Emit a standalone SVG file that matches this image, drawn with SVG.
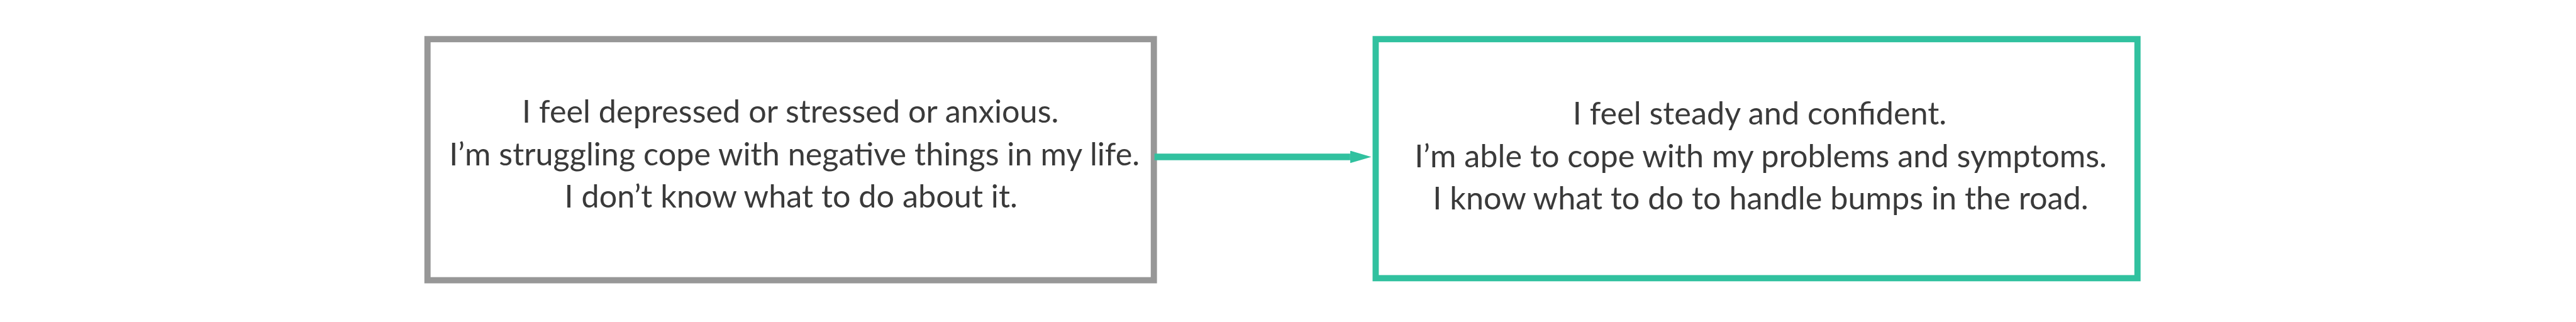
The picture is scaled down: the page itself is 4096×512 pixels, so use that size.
<svg xmlns="http://www.w3.org/2000/svg" width="4096" height="512" viewBox="0 0 4096 512">
<defs>
<style>
.box{fill:#fff;stroke-width:10}
.gray{stroke:#979797}
.teal{stroke:#31c19f}
.t{font-family:Lato,"Open Sans","Liberation Sans",sans-serif;font-size:51px;fill:#3a3a3a;text-anchor:middle}
</style>
<marker id="ah" markerUnits="userSpaceOnUse" markerWidth="36" markerHeight="22" refX="0" refY="10" orient="auto">
<polygon points="0,0 34,10 0,20" fill="#31c19f"/>
</marker>
</defs>
<rect width="4096" height="512" fill="#fff"/>
<g transform="scale(0.988)">
<g id="node-before">
<rect class="box gray" x="688" y="63" width="1169" height="388"/>
<text class="t" x="1272" y="197">I feel depressed or stressed or anxious.</text>
<text class="t" x="1278.5" y="266.5">I’m struggling cope with negative things in my life.</text>
<text class="t" x="1273" y="334.5">I don’t know what to do about it.</text>
</g>
<g id="node-after">
<rect class="box teal" x="2214" y="63" width="1226" height="384.7"/>
<text class="t" x="2832" y="200.5">I feel steady and confident.</text>
<text class="t" x="2833.5" y="269.5">I’m able to cope with my problems and symptoms.</text>
<text class="t" x="2833.5" y="337">I know what to do to handle bumps in the road.</text>
</g>
<g id="connectors">
<line x1="1858" y1="252.5" x2="2173" y2="252.5" stroke="#31c19f" stroke-width="10.7" marker-end="url(#ah)"/>
</g>
</g>
</svg>
